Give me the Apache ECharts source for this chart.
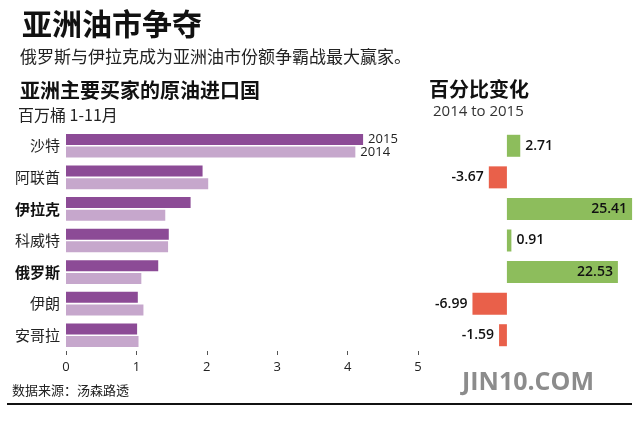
<!DOCTYPE html>
<html>
<head>
<meta charset="utf-8">
<script src="https://cdn.jsdelivr.net/npm/echarts@6/dist/echarts.min.js"></script>
<style>
html,body{margin:0;padding:0;background:#fff;}
#c{width:640px;height:422px;}
</style>
</head>
<body>
<div id="c"></div>
<script>
// ---- data ----
var categories = ['沙特', '阿联酋', '伊拉克', '科威特', '俄罗斯', '伊朗', '安哥拉'];
var boldCategories = ['伊拉克', '俄罗斯'];
var imports2015 = [4.22, 1.94, 1.77, 1.46, 1.31, 1.02, 1.01];
var imports2014 = [4.11, 2.02, 1.41, 1.45, 1.07, 1.10, 1.03];
var pctChange = [2.71, -3.67, 25.41, 0.91, 22.53, -6.99, -1.59];
var xTicks = [0, 1, 2, 3, 4, 5];
var seriesNames = ['2015', '2014'];

var CJK = '"Noto Sans CJK SC", sans-serif';
var NUM = '"Open Sans", "Noto Sans CJK SC", sans-serif';

function yearData(vals, name) {
  return vals.map(function (v, i) {
    if (i === 0) {
      return { value: v, label: { show: true, position: 'right', distance: 5,
        formatter: name, fontSize: 13, color: '#222', fontFamily: NUM } };
    }
    return v;
  });
}

var pctData = pctChange.map(function (v) {
  var pos = v < 0 ? 'left' : (v > 10 ? 'insideRight' : 'right');
  return {
    value: v,
    itemStyle: { color: v < 0 ? '#e9604a' : '#8dbd5c' },
    label: { position: pos }
  };
});

var chart = echarts.init(document.getElementById('c'), null, { renderer: 'canvas' });
chart.setOption({
  backgroundColor: '#ffffff',
  animation: false,
  grid: [
    { left: 66, width: 352, top: 130, height: 221 },
    { left: 433, width: 202, top: 130, height: 221 }
  ],
  xAxis: [
    { gridIndex: 0, type: 'value', min: xTicks[0], max: xTicks[xTicks.length - 1], interval: 1,
      splitLine: { show: false }, axisLine: { show: false },
      axisTick: { show: true, length: 4, lineStyle: { color: '#555' } },
      axisLabel: { margin: 10, fontSize: 13, color: '#222', fontFamily: NUM } },
    { gridIndex: 1, type: 'value', min: -15, max: 26, show: false, splitLine: { show: false } }
  ],
  yAxis: [
    { gridIndex: 0, type: 'category', data: categories, inverse: true,
      axisLine: { show: false }, axisTick: { show: false },
      axisLabel: { margin: 6, fontSize: 15, color: '#222', fontFamily: CJK,
        formatter: function (v) { return boldCategories.indexOf(v) >= 0 ? '{b|' + v + '}' : v; },
        rich: { b: { fontWeight: 'bold', fontSize: 15, color: '#111', fontFamily: CJK } } } },
    { gridIndex: 1, type: 'category', data: categories, inverse: true, show: false }
  ],
  series: [
    { name: seriesNames[0], type: 'bar', xAxisIndex: 0, yAxisIndex: 0, barWidth: 11, barGap: '15%',
      itemStyle: { color: '#8c4b96' }, data: yearData(imports2015, seriesNames[0]) },
    { name: seriesNames[1], type: 'bar', xAxisIndex: 0, yAxisIndex: 0, barWidth: 11, barGap: '15%',
      itemStyle: { color: '#c6a7cc' }, data: yearData(imports2014, seriesNames[1]) },
    { name: 'pct', type: 'bar', xAxisIndex: 1, yAxisIndex: 1, barWidth: 22,
      label: { show: true, distance: 5, fontSize: 14, color: '#111', fontWeight: 600, fontFamily: NUM,
        formatter: function (p) { return p.value.toFixed(2); } },
      data: pctData }
  ],
  graphic: [
    { type: 'text', left: 22, top: 9, style: { text: '亚洲油市争夺', font: 'bold 30px ' + CJK, fill: '#111' } },
    { type: 'text', left: 20, top: 48, style: { text: '俄罗斯与伊拉克成为亚洲油市份额争霸战最大赢家。', font: '17px ' + CJK, fill: '#222' } },
    { type: 'text', left: 20, top: 80, style: { text: '亚洲主要买家的原油进口国', font: 'bold 20px ' + CJK, fill: '#111' } },
    { type: 'text', left: 18, top: 107, style: { text: '百万桶 1-11月', font: '16px ' + CJK, fill: '#222' } },
    { type: 'text', left: 429, top: 79, style: { text: '百分比变化', font: 'bold 20px ' + CJK, fill: '#111' } },
    { type: 'text', left: 433, top: 104, style: { text: '2014 to 2015', font: '15px ' + NUM, fill: '#333' } },
    { type: 'text', left: 12, top: 384, style: { text: '数据来源：汤森路透', font: '13px ' + CJK, fill: '#222' } },
    { type: 'text', left: 462, top: 370, style: { text: 'JIN10.COM', font: 'bold 25px "Open Sans", sans-serif', fill: '#8c8c8c' } },
    { type: 'line', shape: { x1: 7, y1: 404, x2: 632, y2: 404 }, style: { stroke: '#111', lineWidth: 2 } }
  ]
});
</script>
</body>
</html>
